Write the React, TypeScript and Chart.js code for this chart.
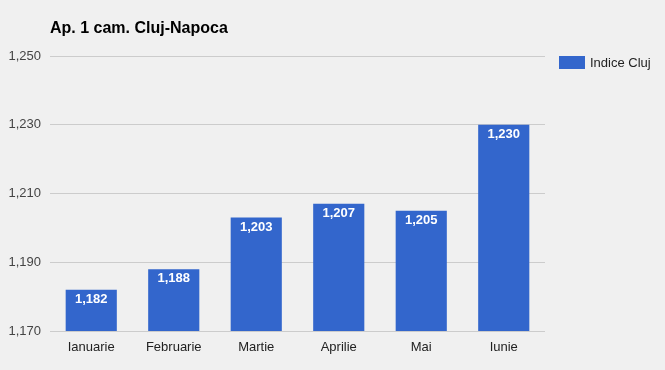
import React, { useEffect, useRef } from "react";
import { Chart, registerables } from "chart.js";

Chart.register(...registerables);

const titleText = "Ap. 1 cam. Cluj-Napoca";
const seriesName = "Indice Cluj";
const categories = ["Ianuarie", "Februarie", "Martie", "Aprilie", "Mai", "Iunie"];
const values = [1182, 1188, 1203, 1207, 1205, 1230];
const yTicks = [1170, 1190, 1210, 1230, 1250];

const BAR_COLOR = "#3366cc";
const BG = "#f0f0f0";
const FONT = "Arial, 'Liberation Sans', sans-serif";

const fmt = (v: number) => v.toLocaleString("en-US");

const decorPlugin = {
  id: "decor",
  beforeDraw(chart: any) {
    const { ctx, width, height } = chart;
    ctx.save();
    ctx.fillStyle = BG;
    ctx.fillRect(0, 0, width, height);
    ctx.restore();
  },
  afterDatasetsDraw(chart: any) {
    const { ctx } = chart;
    const meta = chart.getDatasetMeta(0);
    ctx.save();
    ctx.fillStyle = "#ffffff";
    ctx.font = `bold 13px ${FONT}`;
    ctx.textAlign = "center";
    ctx.textBaseline = "alphabetic";
    meta.data.forEach((el: any, i: number) => {
      ctx.fillText(fmt(values[i]), el.x, el.y + 13);
    });
    // title
    ctx.fillStyle = "#000000";
    ctx.font = `bold 16px ${FONT}`;
    ctx.textAlign = "left";
    ctx.fillText(titleText, 50, 33);
    // legend
    ctx.fillStyle = BAR_COLOR;
    ctx.fillRect(559, 56, 26, 13);
    ctx.fillStyle = "#222222";
    ctx.font = `13px ${FONT}`;
    ctx.textBaseline = "middle";
    ctx.fillText(seriesName, 590, 63);
    ctx.restore();
  },
};

export default function App() {
  const ref = useRef<HTMLCanvasElement | null>(null);
  useEffect(() => {
    document.body.style.margin = "0";
    const chart = new Chart(ref.current!, {
      type: "bar",
      data: {
        labels: categories,
        datasets: [
          {
            label: seriesName,
            data: values,
            backgroundColor: BAR_COLOR,
            barPercentage: 0.62,
            categoryPercentage: 1,
          },
        ],
      },
      options: {
        animation: false,
        responsive: false,
        maintainAspectRatio: false,
        layout: { padding: { left: 0, right: 120, top: 56, bottom: 0 } },
        plugins: {
          legend: { display: false },
          title: { display: false },
          tooltip: { enabled: false },
        },
        scales: {
          x: {
            grid: { display: false },
            border: { display: false },
            ticks: { color: "#222222", font: { family: FONT, size: 13 }, padding: 1, maxRotation: 0 },
            afterFit(scale: any) {
              scale.height = 39;
            },
          },
          y: {
            min: 1170,
            max: 1250,
            afterBuildTicks(scale: any) {
              scale.ticks = yTicks.map((v) => ({ value: v }));
            },
            grid: { color: "#cccccc", drawTicks: false, lineWidth: 1 },
            border: { display: false },
            ticks: {
              color: "#444444",
              font: { family: FONT, size: 13 },
              padding: 9,
              callback: (v: any) => fmt(Number(v)),
            },
            afterFit(scale: any) {
              scale.width = 50;
            },
          },
        },
      },
      plugins: [decorPlugin],
    });
    return () => chart.destroy();
  }, []);
  return (
    <div style={{ width: 665, height: 370 }}>
      <canvas ref={ref} width={665} height={370} style={{ display: "block" }} />
    </div>
  );
}
